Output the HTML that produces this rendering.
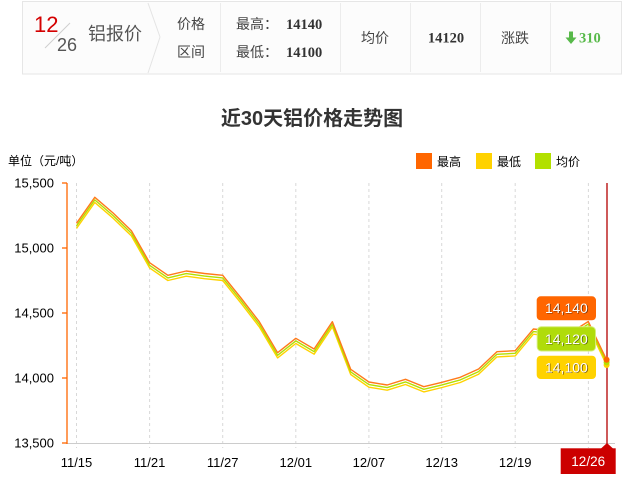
<!DOCTYPE html>
<html><head><meta charset="utf-8"><style>
html,body{margin:0;padding:0;background:#fff;}
svg{display:block;font-family:"Liberation Sans","Noto Sans CJK SC",sans-serif;}
</style></head><body>
<svg width="624" height="485" viewBox="0 0 624 485" xmlns="http://www.w3.org/2000/svg">
<!-- top bar -->
<rect x="22.5" y="1.5" width="599" height="72.5" fill="#fcfcfc" stroke="#e6e6e6"/>
<text x="34" y="32" font-size="22" fill="#d40000">12</text>
<line x1="45" y1="48" x2="70" y2="23" stroke="#cfcfcf" stroke-width="1"/>
<text x="57" y="51" font-size="18" fill="#555">26</text>
<text x="88" y="40" font-size="18" fill="#555">铝报价</text>
<polyline points="148,3 160,37 148,73" fill="none" stroke="#e4e4e4"/>
<text x="177" y="29" font-size="14" fill="#444">价格</text>
<text x="177" y="57" font-size="14" fill="#444">区间</text>
<line x1="220.5" y1="3" x2="220.5" y2="72" stroke="#ececec"/>
<text x="236" y="29" font-size="14" fill="#444">最高：</text>
<text x="286" y="29" font-size="14.5" font-weight="bold" font-family="Liberation Serif,serif" fill="#333">14140</text>
<text x="236" y="57" font-size="14" fill="#444">最低：</text>
<text x="286" y="57" font-size="14.5" font-weight="bold" font-family="Liberation Serif,serif" fill="#333">14100</text>
<line x1="340.5" y1="3" x2="340.5" y2="72" stroke="#ececec"/>
<text x="375" y="43" font-size="14" fill="#444" text-anchor="middle">均价</text>
<line x1="410.5" y1="3" x2="410.5" y2="72" stroke="#ececec"/>
<text x="446" y="42.5" font-size="14.5" font-weight="bold" font-family="Liberation Serif,serif" fill="#333" text-anchor="middle">14120</text>
<line x1="480.5" y1="3" x2="480.5" y2="72" stroke="#ececec"/>
<text x="515" y="43" font-size="14" fill="#444" text-anchor="middle">涨跌</text>
<line x1="550.5" y1="3" x2="550.5" y2="72" stroke="#ececec"/>
<polygon points="569,31.5 573,31.5 573,37.5 576.5,37.5 571,44 565.5,37.5 569,37.5" fill="#58b94a"/>
<text x="579" y="42.5" font-size="14.5" font-weight="bold" font-family="Liberation Serif,serif" fill="#58b94a">310</text>

<!-- title -->
<text x="312" y="125" font-size="20" font-weight="bold" fill="#333" text-anchor="middle">近30天铝价格走势图</text>
<text x="8" y="165" font-size="12" fill="#000">单位（元/吨）</text>

<!-- legend -->
<rect x="416" y="153" width="16" height="16" fill="#ff6600"/>
<text x="437" y="166" font-size="12" fill="#000">最高</text>
<rect x="476" y="153" width="16" height="16" fill="#ffd200"/>
<text x="497" y="166" font-size="12" fill="#000">最低</text>
<rect x="535" y="153" width="16" height="16" fill="#b2e000"/>
<text x="556" y="166" font-size="12" fill="#000">均价</text>

<!-- grid -->
<g stroke="#d8d8d8" stroke-dasharray="3,3" stroke-width="1">
<line x1="76.5" y1="183" x2="76.5" y2="448"/>
<line x1="149.6" y1="183" x2="149.6" y2="448"/>
<line x1="222.7" y1="183" x2="222.7" y2="448"/>
<line x1="295.8" y1="183" x2="295.8" y2="448"/>
<line x1="368.9" y1="183" x2="368.9" y2="448"/>
<line x1="441.7" y1="183" x2="441.7" y2="448"/>
<line x1="515.2" y1="183" x2="515.2" y2="448"/>
<line x1="588.4" y1="183" x2="588.4" y2="448"/>
</g>
<line x1="67" y1="443.5" x2="615" y2="443.5" stroke="#cccccc"/>
<line x1="67" y1="183" x2="67" y2="444" stroke="#ff6600" stroke-width="1.3"/>
<g stroke="#ff6600" stroke-width="1.3">
<line x1="62" y1="183" x2="67" y2="183"/>
<line x1="62" y1="248" x2="67" y2="248"/>
<line x1="62" y1="313" x2="67" y2="313"/>
<line x1="62" y1="378" x2="67" y2="378"/>
<line x1="62" y1="443" x2="67" y2="443"/>
</g>
<g font-size="13" fill="#000" text-anchor="end">
<text x="54" y="187.5">15,500</text>
<text x="54" y="252.5">15,000</text>
<text x="54" y="317.5">14,500</text>
<text x="54" y="382.5">14,000</text>
<text x="54" y="447.5">13,500</text>
</g>
<g font-size="13" fill="#000" text-anchor="middle">
<text x="76.5" y="467">11/15</text>
<text x="149.6" y="467">11/21</text>
<text x="222.7" y="467">11/27</text>
<text x="295.8" y="467">12/01</text>
<text x="368.9" y="467">12/07</text>
<text x="441.7" y="467">12/13</text>
<text x="515.2" y="467">12/19</text>
</g>

<!-- series -->
<g fill="none" stroke-width="1.4" stroke-linejoin="round">
<polyline stroke="#ffd200" transform="translate(0,5.2)" points="76.5,223.3 94.8,197.3 113.1,213 131.4,230.7 149.6,262.7 167.9,275.3 186.2,271 204.5,273.5 222.7,275.3 241,298 259.3,321.7 277.6,352.7 295.8,338.3 314.1,349 332.4,321.7 350.7,369.3 368.9,382 387.2,385 405.5,379.3 423.8,386.7 442,382.3 460.3,377.3 478.6,369 496.9,351.7 515.2,350.7 533.4,329 551.7,331 570,333 588.3,321.5 606.6,359.8"/>
<polyline stroke="#b2e000" transform="translate(0,2.6)" points="76.5,223.3 94.8,197.3 113.1,213 131.4,230.7 149.6,262.7 167.9,275.3 186.2,271 204.5,273.5 222.7,275.3 241,298 259.3,321.7 277.6,352.7 295.8,338.3 314.1,349 332.4,321.7 350.7,369.3 368.9,382 387.2,385 405.5,379.3 423.8,386.7 442,382.3 460.3,377.3 478.6,369 496.9,351.7 515.2,350.7 533.4,329 551.7,331 570,333 588.3,321.5 606.6,359.8"/>
<polyline stroke="#ff7a1a" points="76.5,223.3 94.8,197.3 113.1,213 131.4,230.7 149.6,262.7 167.9,275.3 186.2,271 204.5,273.5 222.7,275.3 241,298 259.3,321.7 277.6,352.7 295.8,338.3 314.1,349 332.4,321.7 350.7,369.3 368.9,382 387.2,385 405.5,379.3 423.8,386.7 442,382.3 460.3,377.3 478.6,369 496.9,351.7 515.2,350.7 533.4,329 551.7,331 570,333 588.3,321.5 606.6,359.8"/>
</g>

<!-- crosshair -->
<line x1="607" y1="183" x2="607" y2="446" stroke="#b30000" stroke-width="1.3"/>
<circle cx="606.6" cy="365" r="3" fill="#ffd200"/>
<circle cx="606.6" cy="362.4" r="3" fill="#b2e000"/>
<circle cx="606.6" cy="359.8" r="3" fill="#ff6600"/>

<!-- value labels -->
<rect x="536.7" y="296.3" width="59.3" height="24" rx="4" fill="#ff6600"/>
<rect x="537.2" y="326.8" width="58.3" height="24.2" rx="4" fill="#b0dc0a" stroke="#d5ee7a" stroke-width="1"/>
<rect x="536.7" y="355.7" width="59.3" height="23.3" rx="4" fill="#ffd200"/>
<g font-size="14" text-anchor="middle">
<text x="567.2" y="313.7" fill="#7a3000">14,140</text>
<text x="566.4" y="312.9" fill="#fff">14,140</text>
<text x="567.2" y="344.6" fill="#5a6a00">14,120</text>
<text x="566.4" y="343.8" fill="#fff">14,120</text>
<text x="567.2" y="373.2" fill="#806000">14,100</text>
<text x="566.4" y="372.4" fill="#fff">14,100</text>
</g>

<!-- date label -->
<polygon points="601,448.5 607,443 613,448.5" fill="#cc0000"/>
<rect x="560.7" y="448.3" width="55" height="25.7" fill="#cc0000"/>
<text x="588.2" y="466" font-size="13.5" fill="#fff" text-anchor="middle">12/26</text>
</svg>
</body></html>
